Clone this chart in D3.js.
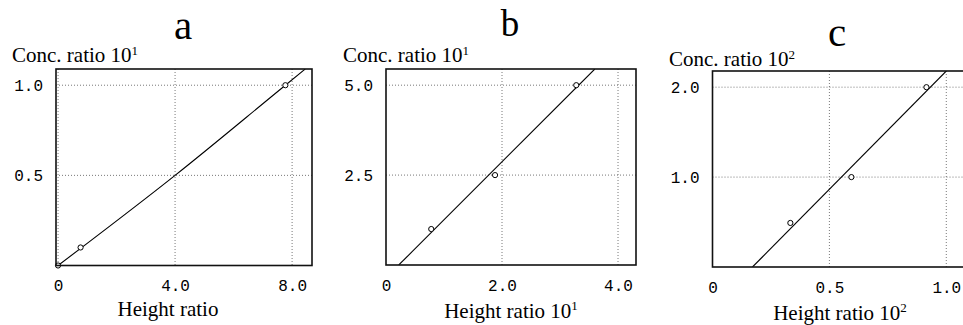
<!DOCTYPE html>
<html>
<head>
<meta charset="utf-8">
<script src="https://cdn.jsdelivr.net/npm/d3@7"></script>
<style>
  body { margin: 0; background: #fff; }
  svg { display: block; }
  .tick text { font-family: "Liberation Mono", "DejaVu Sans Mono", monospace; font-size: 16px; fill: #000; }
  .serif { font-family: "Liberation Serif", "Times New Roman", serif; fill: #000; }
</style>
</head>
<body>
<svg id="chart" width="963" height="325"></svg>
<script>
// ── data ────────────────────────────────────────────────────
// panel a
const aHeight = [0, 0.77, 7.77];
const aConc = [0, 0.1, 1.0];
const aFitHeight = [0, 4.0, 7.77, 8.45];
const aFitConc = [0, 0.5, 1.0, 1.09];
const aXTicks = [0, 4, 8], aXLabels = ['0', '4.0', '8.0'];
const aYTicks = [0.5, 1.0], aYLabels = ['0.5', '1.0'];

// panel b
const bHeight = [0.78, 1.88, 3.28];
const bConc = [1.0, 2.5, 5.0];
const bFitHeight = [0.22, 3.6];
const bFitConc = [0, 5.45];
const bXTicks = [0, 2, 4], bXLabels = ['0', '2.0', '4.0'];
const bYTicks = [2.5, 5.0], bYLabels = ['2.5', '5.0'];

// panel c
const cHeight = [0.333, 0.594, 0.915];
const cConc = [0.49, 1.0, 2.0];
const cFitHeight = [0.171, 1.0];
const cFitConc = [0, 2.18];
const cXTicks = [0, 0.5, 1.0], cXLabels = ['0', '0.5', '1.0'];
const cYTicks = [1.0, 2.0], cYLabels = ['1.0', '2.0'];

// ── layout per panel ────────────────────────────────────────
const panels = [
  { id: 'a', title: 'a', titleX: 183, titleY: 39, titleSize: 41,
    x: aHeight, y: aConc, fx: aFitHeight, fy: aFitConc,
    xt: aXTicks, xl: aXLabels, yt: aYTicks, yl: aYLabels,
    xd: [-0.07, 8.68], yd: [0, 1.09], left: 56, right: 312, top: 69, bottom: 265.5,
    yLab: { x: 12, y: 62, exp: '1' }, xLab: { x: 168, y: 316, text: 'Height ratio', exp: null } },
  { id: 'b', title: 'b', titleX: 510, titleY: 36, titleSize: 37,
    x: bHeight, y: bConc, fx: bFitHeight, fy: bFitConc,
    xt: bXTicks, xl: bXLabels, yt: bYTicks, yl: bYLabels,
    xd: [0, 4.31], yd: [0, 5.45], left: 386, right: 636, top: 69, bottom: 265,
    yLab: { x: 343, y: 62, exp: '1' }, xLab: { x: 511, y: 318, text: 'Height ratio 10', exp: '1' } },
  { id: 'c', title: 'c', titleX: 837, titleY: 46, titleSize: 41,
    x: cHeight, y: cConc, fx: cFitHeight, fy: cFitConc,
    xt: cXTicks, xl: cXLabels, yt: cYTicks, yl: cYLabels,
    xd: [0, 1.08], yd: [0, 2.18], left: 712.5, right: 965, top: 71, bottom: 267,
    yLab: { x: 669, y: 66, exp: '2' }, xLab: { x: 840, y: 320, text: 'Height ratio 10', exp: '2' } }
];

const svg = d3.select('#chart');

panels.forEach(p => {
  const x = d3.scaleLinear().domain(p.xd).range([p.left, p.right]);
  const y = d3.scaleLinear().domain(p.yd).range([p.bottom, p.top]);
  const W = p.right - p.left, H = p.bottom - p.top;
  const g = svg.append('g');

  g.append('clipPath').attr('id', 'clip-' + p.id)
    .append('rect').attr('x', p.left).attr('y', p.top).attr('width', W).attr('height', H);

  // dotted grid
  g.append('g').selectAll('line.gx').data(p.xt.filter(v => v > p.xd[0] + 0.01 && v < p.xd[1]))
    .enter().append('line')
    .attr('x1', d => x(d)).attr('x2', d => x(d)).attr('y1', p.top).attr('y2', p.bottom)
    .attr('stroke', '#555').attr('stroke-width', 0.8).attr('stroke-dasharray', '1,2');
  g.append('g').selectAll('line.gy').data(p.yt)
    .enter().append('line')
    .attr('y1', d => y(d)).attr('y2', d => y(d)).attr('x1', p.left).attr('x2', p.right)
    .attr('stroke', '#555').attr('stroke-width', 0.8).attr('stroke-dasharray', '1,2');

  // axes (labels only)
  const ax = g.append('g').attr('transform', `translate(0,${p.bottom})`)
    .call(d3.axisBottom(x).tickValues(p.xt).tickSize(0).tickPadding(14.5)
      .tickFormat((d, i) => p.xl[i]));
  ax.select('.domain').remove();
  const ay = g.append('g').attr('transform', `translate(${p.left},0)`)
    .call(d3.axisLeft(y).tickValues(p.yt).tickSize(0).tickPadding(13)
      .tickFormat((d, i) => p.yl[i]));
  ay.select('.domain').remove();

  // fit line
  const fit = p.fx.map((v, i) => [v, p.fy[i]]);
  g.append('path').datum(fit)
    .attr('clip-path', `url(#clip-${p.id})`)
    .attr('d', d3.line().x(d => x(d[0])).y(d => y(d[1])).curve(d3.curveMonotoneX))
    .attr('fill', 'none').attr('stroke', '#000').attr('stroke-width', 1.1);

  // measured points
  g.append('g').selectAll('circle').data(p.x.map((v, i) => [v, p.y[i]]))
    .enter().append('circle')
    .attr('cx', d => x(d[0])).attr('cy', d => y(d[1])).attr('r', 2.6)
    .attr('fill', '#fff').attr('stroke', '#000').attr('stroke-width', 1);

  // frame
  g.append('rect').attr('x', p.left).attr('y', p.top).attr('width', W).attr('height', H)
    .attr('fill', 'none').attr('stroke', '#111').attr('stroke-width', 1.6);

  // panel letter
  g.append('text').attr('class', 'serif').attr('x', p.titleX).attr('y', p.titleY)
    .attr('text-anchor', 'middle').attr('font-size', p.titleSize).text(p.title);

  // y label
  const yt = g.append('text').attr('class', 'serif')
    .attr('x', p.yLab.x).attr('y', p.yLab.y).attr('font-size', 21);
  yt.append('tspan').text('Conc. ratio 10');
  yt.append('tspan').attr('font-size', 13).attr('dy', -7).text(p.yLab.exp);

  // x label
  const xt = g.append('text').attr('class', 'serif')
    .attr('x', p.xLab.x).attr('y', p.xLab.y).attr('font-size', 21).attr('text-anchor', 'middle');
  xt.append('tspan').text(p.xLab.text);
  if (p.xLab.exp) xt.append('tspan').attr('font-size', 13).attr('dy', -8).text(p.xLab.exp);
});
</script>
</body>
</html>
